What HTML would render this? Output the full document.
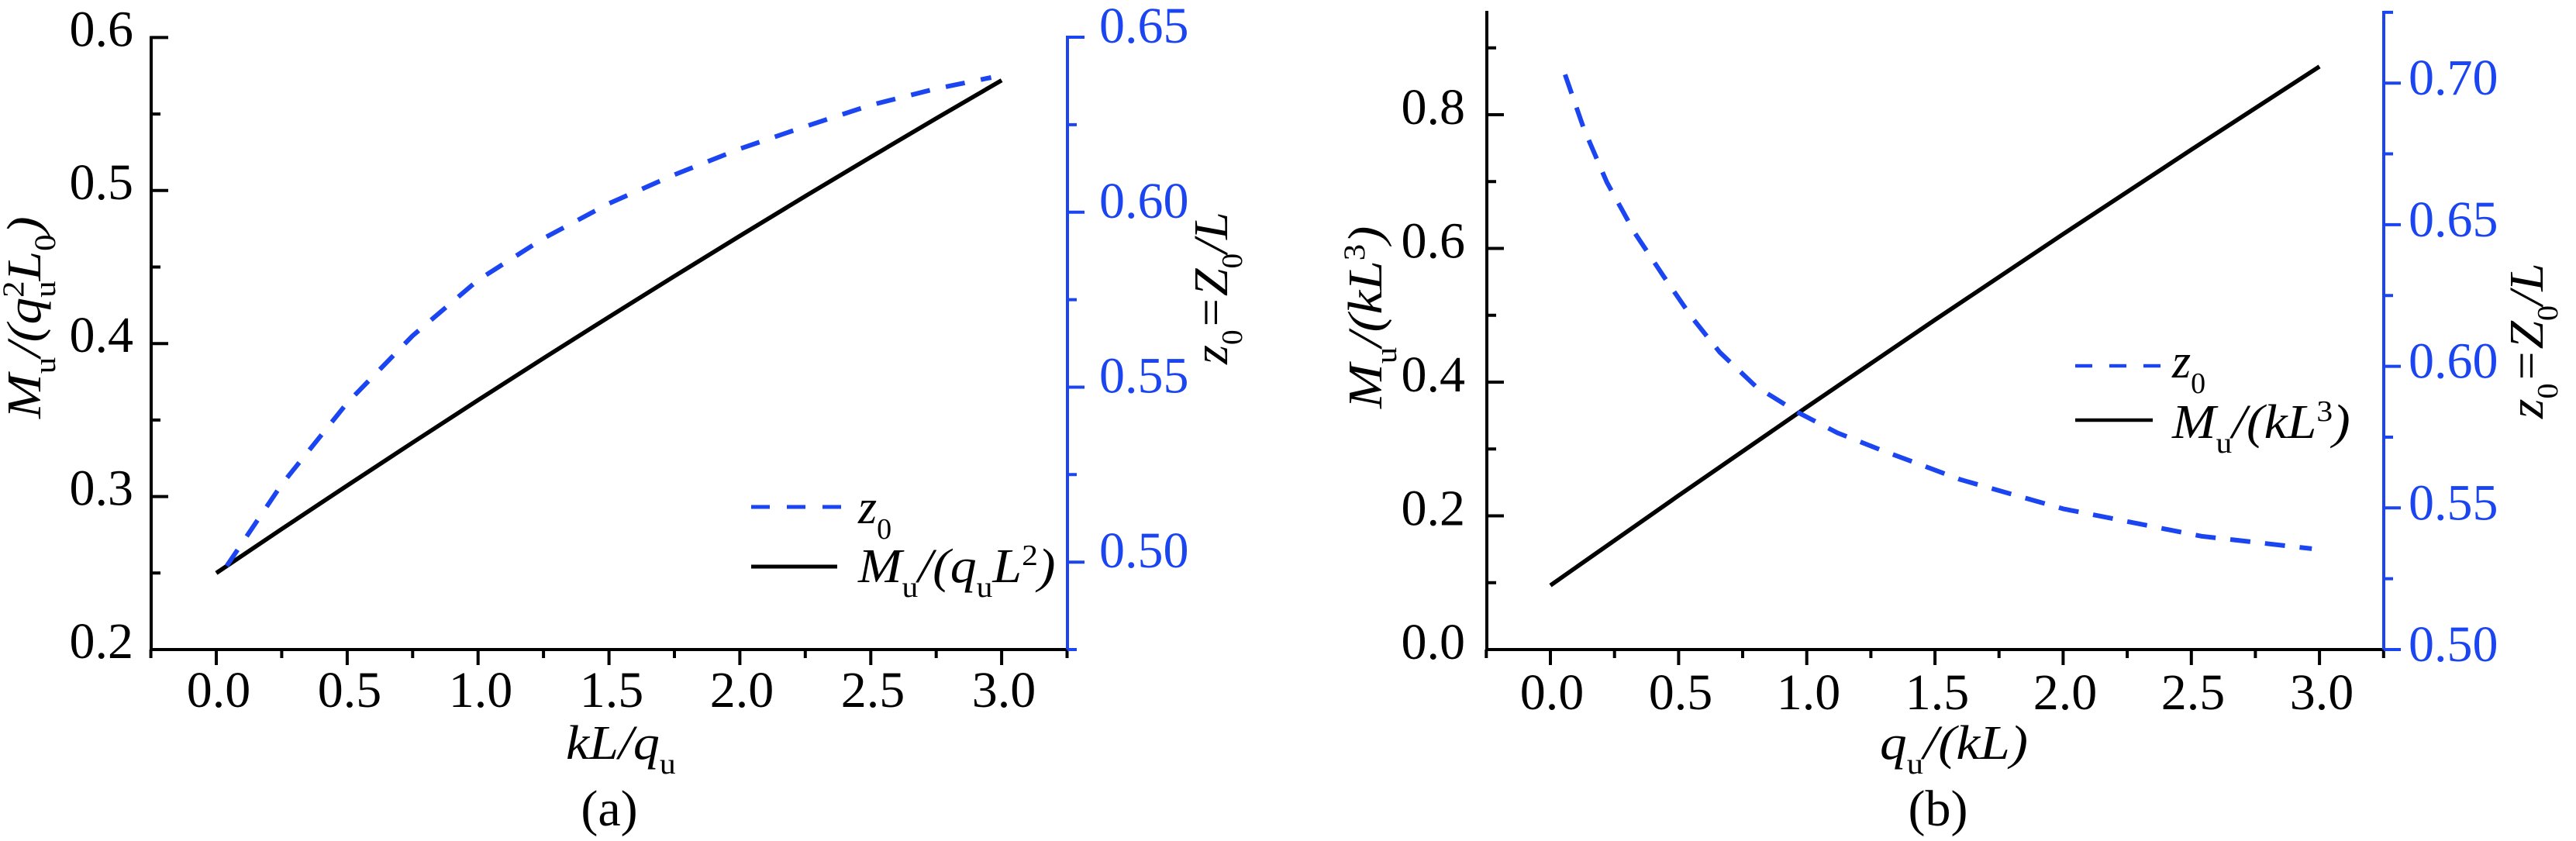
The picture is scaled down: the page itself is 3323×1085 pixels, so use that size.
<!DOCTYPE html>
<html>
<head>
<meta charset="utf-8">
<style>
  html, body { margin: 0; padding: 0; background: #fff; }
  svg { display: block; font-family: "Liberation Serif", serif; }
  text, tspan { font-family: "Liberation Serif", serif; }
</style>
</head>
<body>
<svg width="3323" height="1085" viewBox="0 0 3323 1085" xmlns="http://www.w3.org/2000/svg" font-family="Liberation Serif, serif">
  <rect width="3323" height="1085" fill="#fff"/>

  <!-- ================= PANEL (a) ================= -->
  <line x1="195" y1="46.5" x2="195" y2="840" stroke="#000" stroke-width="4"/>
  <line x1="193" y1="838" x2="1377" y2="838" stroke="#000" stroke-width="4"/>
  <line x1="1377" y1="46" x2="1377" y2="840" stroke="#1a45f0" stroke-width="4"/>

  <path d="M195,838h22 M195,640.6h22 M195,443.2h22 M195,245.8h22 M195,48.4h22
           M195,739.3h12 M195,541.9h12 M195,344.5h12 M195,147.1h12" stroke="#000" stroke-width="4" fill="none"/>
  <path d="M279,838v20 M447.9,838v20 M616.7,838v20 M785.6,838v20 M954.4,838v20 M1123.3,838v20 M1292.1,838v20
           M194.6,838v11 M363.4,838v11 M532.3,838v11 M701.1,838v11 M870,838v11 M1038.8,838v11 M1207.7,838v11 M1376.5,838v11"
        stroke="#000" stroke-width="4" fill="none"/>
  <path d="M1377,725.2h22 M1377,499.5h22 M1377,273.8h22 M1377,48.05h22
           M1377,838h12 M1377,612.3h12 M1377,386.6h12 M1377,160.9h12" stroke="#1a45f0" stroke-width="4" fill="none"/>

  <g font-size="66" text-anchor="end" fill="#000">
    <text x="172" y="849">0.2</text>
    <text x="172" y="651.6">0.3</text>
    <text x="172" y="454.2">0.4</text>
    <text x="172" y="256.8">0.5</text>
    <text x="172" y="59.4">0.6</text>
  </g>
  <g font-size="66" text-anchor="middle" fill="#000">
    <text x="282" y="912">0.0</text>
    <text x="451" y="912">0.5</text>
    <text x="620" y="912">1.0</text>
    <text x="789" y="912">1.5</text>
    <text x="957" y="912">2.0</text>
    <text x="1126" y="912">2.5</text>
    <text x="1295" y="912">3.0</text>
  </g>
  <g font-size="66" fill="#1a45f0">
    <text x="1418" y="732">0.50</text>
    <text x="1418" y="506.5">0.55</text>
    <text x="1418" y="281">0.60</text>
    <text x="1418" y="55">0.65</text>
  </g>

  <polyline fill="none" stroke="#000" stroke-width="5.5" stroke-linejoin="round"
    points="279,739.3 363.4,682.5 447.9,626.4 532.3,571 616.7,516.2 701.1,462.2 785.6,408.9 870,356.3 954.4,304.4 1038.8,253.1 1123.3,202.6 1207.7,152.8 1292.1,103.6"/>
  <polyline fill="none" stroke="#1a45f0" stroke-width="6" stroke-dasharray="25 21" stroke-linejoin="round"
    points="292.5,730.1 363.4,624.9 447.9,519.8 532.3,433.1 616.7,361.3 701.1,307.6 785.6,262.5 870,225.4 954.4,192 1038.8,163.2 1123.3,135.6 1207.7,114.4 1278.6,100"/>

  <line x1="969" y1="654" x2="1085" y2="654" stroke="#1a45f0" stroke-width="5" stroke-dasharray="24 22"/>
  <text x="1107" y="675" font-size="62" font-style="italic">z<tspan font-style="normal" font-size="38" dy="20">0</tspan></text>
  <line x1="969" y1="731" x2="1080" y2="731" stroke="#000" stroke-width="5"/>
  <text transform="translate(1107,751) scale(1.094,1)" font-size="62" font-style="italic">M<tspan font-style="normal" font-size="38" dy="19">u</tspan><tspan dy="-19">/(q</tspan><tspan font-style="normal" font-size="38" dy="19">u</tspan><tspan dy="-19">L</tspan><tspan font-style="normal" font-size="38" dy="-22">2</tspan><tspan dy="22">)</tspan></text>

  <text transform="translate(730,979) scale(1.097,1)" font-size="62" font-style="italic">kL/q<tspan font-style="normal" font-size="38" dy="19">u</tspan></text>
  <text x="786" y="1065" font-size="66" text-anchor="middle">(a)</text>
  <text transform="translate(52,540) rotate(-90) scale(1.1,1)" font-size="63" font-style="italic">M<tspan font-style="normal" font-size="39" dy="19">u</tspan><tspan dy="-19">/(q</tspan><tspan font-style="normal" font-size="39" dy="-22">2</tspan><tspan font-style="normal" font-size="39" dx="-19.5" dy="41">u</tspan><tspan dy="-19">L</tspan><tspan font-style="normal" font-size="39" dy="19">0</tspan><tspan dy="-19">)</tspan></text>
  <text transform="translate(1583,470) rotate(-90) scale(1.034,1)" font-size="62" font-style="italic">z<tspan font-style="normal" font-size="38" dy="19">0</tspan><tspan dy="-19">=Z</tspan><tspan font-style="normal" font-size="38" dy="19">0</tspan><tspan dy="-19">/L</tspan></text>

  <!-- ================= PANEL (b) ================= -->
  <line x1="1918" y1="14" x2="1918" y2="840" stroke="#000" stroke-width="4"/>
  <line x1="1916" y1="838" x2="3075" y2="838" stroke="#000" stroke-width="4"/>
  <line x1="3075" y1="14" x2="3075" y2="840" stroke="#1a45f0" stroke-width="4"/>

  <path d="M1918,838h22 M1918,665.5h22 M1918,493h22 M1918,320.5h22 M1918,148h22
           M1918,751.75h12 M1918,579.25h12 M1918,406.75h12 M1918,234.25h12 M1918,61.75h12" stroke="#000" stroke-width="4" fill="none"/>
  <path d="M2000,838v20 M2165.4,838v20 M2330.7,838v20 M2496.1,838v20 M2661.4,838v20 M2826.8,838v20 M2992.1,838v20
           M1917.3,838v11 M2082.7,838v11 M2248,838v11 M2413.4,838v11 M2578.7,838v11 M2744.1,838v11 M2909.4,838v11 M3074.8,838v11"
        stroke="#000" stroke-width="4" fill="none"/>
  <path d="M3075,838h22 M3075,655.3h22 M3075,472.6h22 M3075,289.9h22 M3075,107.2h22
           M3075,746.65h12 M3075,563.95h12 M3075,381.25h12 M3075,198.55h12 M3075,15.85h12" stroke="#1a45f0" stroke-width="4" fill="none"/>

  <g font-size="66" text-anchor="end" fill="#000">
    <text x="1890" y="850">0.0</text>
    <text x="1890" y="677.5">0.2</text>
    <text x="1890" y="505">0.4</text>
    <text x="1890" y="332.5">0.6</text>
    <text x="1890" y="160">0.8</text>
  </g>
  <g font-size="66" text-anchor="middle" fill="#000">
    <text x="2002" y="915">0.0</text>
    <text x="2168" y="915">0.5</text>
    <text x="2333" y="915">1.0</text>
    <text x="2499" y="915">1.5</text>
    <text x="2664" y="915">2.0</text>
    <text x="2829" y="915">2.5</text>
    <text x="2995" y="915">3.0</text>
  </g>
  <g font-size="66" fill="#1a45f0">
    <text x="3107" y="853">0.50</text>
    <text x="3107" y="670.3">0.55</text>
    <text x="3107" y="487.6">0.60</text>
    <text x="3107" y="304.9">0.65</text>
    <text x="3107" y="122.2">0.70</text>
  </g>

  <polyline fill="none" stroke="#000" stroke-width="5.5" stroke-linejoin="round"
    points="2000,755.2 2165.4,639.3 2330.7,525.2 2496,412.7 2661.4,302 2826.8,193.1 2992.1,85.8"/>
  <polyline fill="none" stroke="#1a45f0" stroke-width="6" stroke-dasharray="26 19" stroke-linejoin="round"
    points="2018.9,96.2 2043,165.7 2072.8,235.1 2109.1,300.9 2145.5,355.7 2181.9,408.7 2218.3,454.3 2264.6,498.2 2317.5,531.1 2370.4,558.5 2425,580 2529.1,618.8 2661.4,656.4 2840,691.8 2982.2,707.9"/>

  <line x1="2677" y1="472" x2="2787" y2="472" stroke="#1a45f0" stroke-width="4.5" stroke-dasharray="22 22"/>
  <text x="2802" y="487" font-size="62" font-style="italic">z<tspan font-style="normal" font-size="38" dy="20">0</tspan></text>
  <line x1="2677" y1="542" x2="2777" y2="542" stroke="#000" stroke-width="4.5"/>
  <text transform="translate(2802,565) scale(1.093,1)" font-size="62" font-style="italic">M<tspan font-style="normal" font-size="38" dy="19">u</tspan><tspan dy="-19">/(kL</tspan><tspan font-style="normal" font-size="38" dy="-22">3</tspan><tspan dy="22">)</tspan></text>

  <text transform="translate(2425,979) scale(1.12,1)" font-size="62" font-style="italic">q<tspan font-style="normal" font-size="38" dy="19">u</tspan><tspan dy="-19">/(kL)</tspan></text>
  <text x="2500" y="1065" font-size="66" text-anchor="middle">(b)</text>
  <text transform="translate(1782,527) rotate(-90) scale(1.1,1)" font-size="63" font-style="italic">M<tspan font-style="normal" font-size="39" dy="19">u</tspan><tspan dy="-19">/(kL</tspan><tspan font-style="normal" font-size="39" dy="-22">3</tspan><tspan dy="22">)</tspan></text>
  <text transform="translate(3280,540) rotate(-90) scale(1.055,1)" font-size="62" font-style="italic">z<tspan font-style="normal" font-size="38" dy="19">0</tspan><tspan dy="-19">=Z</tspan><tspan font-style="normal" font-size="38" dy="19">0</tspan><tspan dy="-19">/L</tspan></text>
</svg>
</body>
</html>
